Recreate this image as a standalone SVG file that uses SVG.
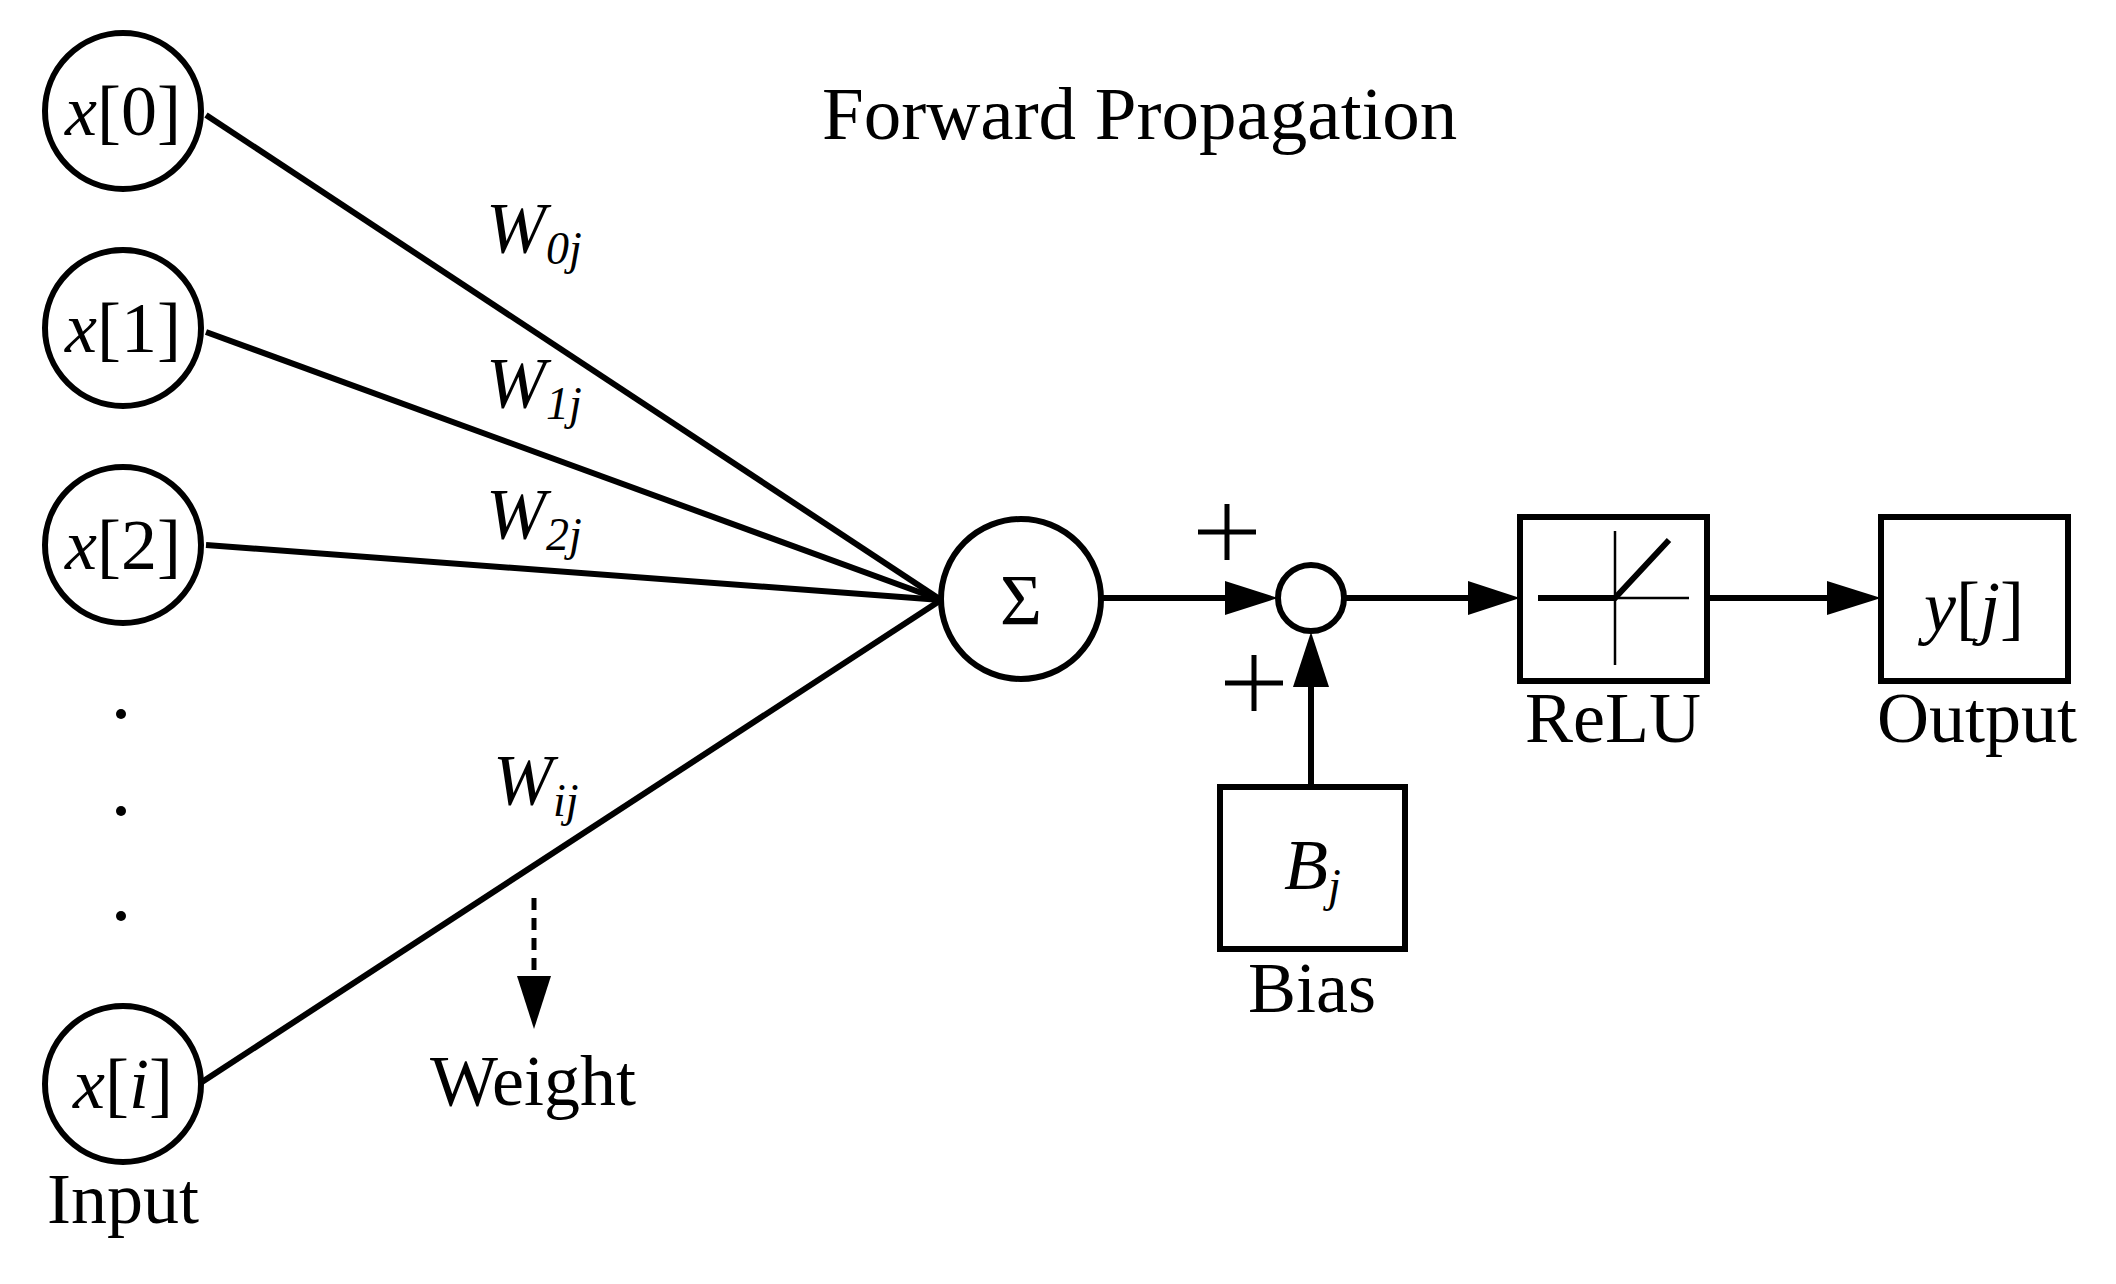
<svg xmlns="http://www.w3.org/2000/svg" width="2116" height="1284" viewBox="0 0 2116 1284">
<style>
text{font-family:"Liberation Serif","Times New Roman",serif;fill:#000}
.t{font-size:72px}
.it{font-style:italic}
.sub{font-size:46px;font-style:italic}
.n{fill:#fff;stroke:#000;stroke-width:6}
.c{stroke:#000;stroke-width:6;fill:none}
</style>
<defs>
<marker id="ah" viewBox="0 0 10 10" refX="10" refY="5" markerWidth="9" markerHeight="6.2" markerUnits="userSpaceOnUse" orient="auto">
<path d="M0,0L10,5L0,10z" fill="#000"/>
</marker>
</defs>
<rect width="2116" height="1284" fill="#fff"/>
<text class="t" x="822" y="139" style="font-size:75px">Forward Propagation</text>
<g id="connectors">
<line class="c" x1="206" y1="115" x2="941" y2="600"/>
<line class="c" x1="206" y1="332" x2="941" y2="600"/>
<line class="c" x1="206" y1="545" x2="941" y2="600"/>
<line class="c" x1="202" y1="1082" x2="941" y2="600"/>
<line class="c" x1="1102" y1="598" x2="1227" y2="598"/>
<path d="M1225,581L1278,598L1225,615z"/>
<line class="c" x1="1311" y1="787" x2="1311" y2="685"/>
<path d="M1293,687L1311,632L1329,687z"/>
<line class="c" x1="1345" y1="598" x2="1470" y2="598"/>
<path d="M1468,581L1520,598L1468,615z"/>
<line class="c" x1="1707" y1="598" x2="1830" y2="598"/>
<path d="M1827,581L1881,598L1827,615z"/>
<line x1="534" y1="898" x2="534" y2="978" stroke="#000" stroke-width="5" stroke-dasharray="12,8"/>
<path d="M517,976L534,1029L551,976z"/>
</g>
<g id="x0"><circle class="n" cx="123" cy="111" r="78"/><text class="t" x="123" y="135" text-anchor="middle"><tspan class="it">x</tspan>[0]</text></g>
<g id="x1"><circle class="n" cx="123" cy="328" r="78"/><text class="t" x="123" y="352" text-anchor="middle"><tspan class="it">x</tspan>[1]</text></g>
<g id="x2"><circle class="n" cx="123" cy="545" r="78"/><text class="t" x="123" y="569" text-anchor="middle"><tspan class="it">x</tspan>[2]</text></g>
<g id="dots"><circle cx="121" cy="714" r="5"/><circle cx="121" cy="811" r="5"/><circle cx="121" cy="916" r="5"/></g>
<g id="xi"><circle class="n" cx="123" cy="1084" r="78"/><text class="t" x="123" y="1108" text-anchor="middle"><tspan class="it">x</tspan>[<tspan class="it">i</tspan>]</text>
<text class="t" x="123" y="1223" text-anchor="middle">Input</text></g>
<g id="weights">
<text class="t it" x="486" y="252">W<tspan class="sub" dy="12">0j</tspan></text>
<text class="t it" x="486" y="407">W<tspan class="sub" dy="12">1j</tspan></text>
<text class="t it" x="486" y="538">W<tspan class="sub" dy="12">2j</tspan></text>
<text class="t it" x="493" y="804">W<tspan class="sub" dy="12">ij</tspan></text>
<text class="t" x="533" y="1105" text-anchor="middle">Weight</text>
</g>
<g id="sum"><circle class="n" cx="1021" cy="599" r="80"/><text class="t" x="1021" y="624" text-anchor="middle">Σ</text></g>
<g id="adder"><circle class="n" cx="1311" cy="598" r="33"/>
<path class="c" d="M1198,532h58M1227,504v56M1225,683h58M1254,655v56" style="stroke-width:5"/></g>
<g id="bias"><rect class="n" x="1220" y="787" width="185" height="162"/>
<text class="t it" x="1284" y="889">B<tspan class="sub" dy="12">j</tspan></text>
<text class="t" x="1312" y="1012" text-anchor="middle">Bias</text></g>
<g id="relu"><rect class="n" x="1520" y="517" width="187" height="164"/>
<line x1="1538" y1="598" x2="1689" y2="598" stroke="#000" stroke-width="2.5"/>
<line x1="1615" y1="531" x2="1615" y2="665" stroke="#000" stroke-width="2.5"/>
<path class="c" d="M1538,598H1615L1669,540"/>
<text class="t" x="1613" y="742" text-anchor="middle">ReLU</text></g>
<g id="output"><rect class="n" x="1881" y="517" width="187" height="164"/>
<text class="t" x="1974" y="631" text-anchor="middle"><tspan class="it">y</tspan>[<tspan class="it">j</tspan>]</text>
<text class="t" x="1977" y="742" text-anchor="middle">Output</text></g>
</svg>
